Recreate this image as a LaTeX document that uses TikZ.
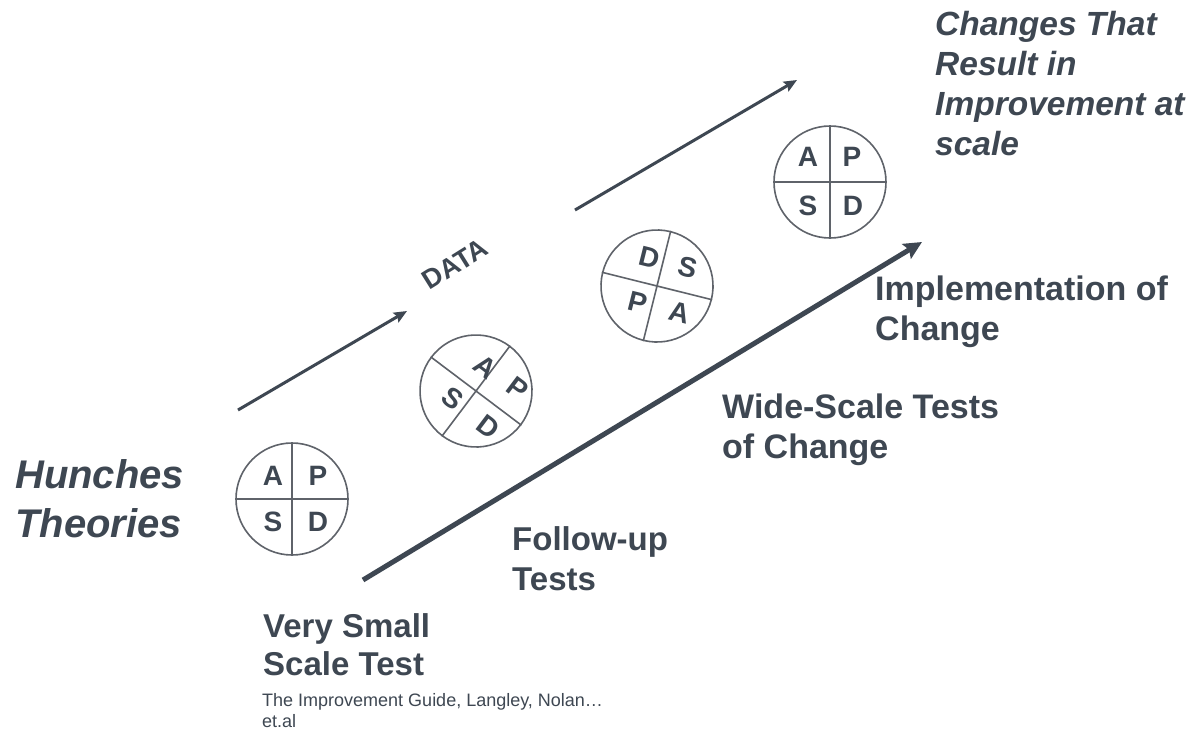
\documentclass[tikz,border=0pt]{standalone}
\usepackage{fontspec}
\setmainfont{Liberation Sans}
\usetikzlibrary{arrows.meta}
\definecolor{txt}{RGB}{62,71,82}
\definecolor{ring}{RGB}{95,99,106}
\begin{document}
\begin{tikzpicture}[x=1pt,y=1pt,
  pdsa/.style={circle, draw=ring, line width=1.6pt, minimum size=112pt, inner sep=0pt},
  quad/.style={draw=ring, line width=1.6pt},
  letter/.style={font=\bfseries\fontsize{28}{28}\selectfont, text=txt, inner sep=0pt},
  lbl/.style={text=txt, anchor=base west, inner sep=0pt, align=left},
  flow/.style={draw=txt, line width=3pt, -{Stealth[length=13pt,width=11pt,inset=2pt]}},
  mainflow/.style={draw=txt, line width=5pt, -{Stealth[length=18pt,width=17pt,inset=3pt]}}]
\useasboundingbox[fill=white] (0,0) rectangle (1191,-734);

% circle 1
\node[pdsa] (c1) at (292,-499) {};
\draw[quad] (c1.north) -- (c1.south) (c1.west) -- (c1.east);
\node[letter] (c1a) at (273,-476) {A};
\node[letter] (c1p) at (318,-476) {P};
\node[letter] (c1s) at (273,-522) {S};
\node[letter] (c1d) at (318,-522) {D};

% circle 2
\node[pdsa, rotate=-37] (c2) at (476,-391) {};
\draw[quad] (c2.north) -- (c2.south) (c2.west) -- (c2.east);
\node[letter, rotate=-37] (c2a) at (485,-367) {A};
\node[letter, rotate=-37] (c2p) at (518,-388) {P};
\node[letter, rotate=-37] (c2s) at (453,-398) {S};
\node[letter, rotate=-37] (c2d) at (488,-427) {D};

% circle 3
\node[pdsa, rotate=-14] (c3) at (657,-286) {};
\draw[quad] (c3.north) -- (c3.south) (c3.west) -- (c3.east);
\node[letter, rotate=-14] (c3d) at (650,-258) {D};
\node[letter, rotate=-14] (c3s) at (688,-267) {S};
\node[letter, rotate=-14] (c3p) at (638,-302) {P};
\node[letter, rotate=-14] (c3a) at (680,-313) {A};

% circle 4
\node[pdsa] (c4) at (830,-182) {};
\draw[quad] (c4.north) -- (c4.south) (c4.west) -- (c4.east);
\node[letter] (c4a) at (808,-157) {A};
\node[letter] (c4p) at (852,-157) {P};
\node[letter] (c4s) at (808,-206) {S};
\node[letter] (c4d) at (853,-206) {D};

% arrows
\coordinate (u1s) at (238,-410);
\coordinate (u1e) at (407,-311);
\coordinate (u2s) at (575,-210);
\coordinate (u2e) at (797,-80);
\coordinate (ms) at (363,-580);
\coordinate (me) at (922,-242);
\draw[flow] (u1s) -- (u1e);
\draw[flow] (u2s) -- (u2e);
\draw[mainflow] (ms) -- (me);

\node[font=\bfseries\fontsize{27}{27}\selectfont, text=txt, rotate=32, inner sep=0pt] (data) at (455,-264) {DATA};

% labels (anchor is the baseline of the last line)
\node[lbl, font=\bfseries\itshape\fontsize{40}{49}\selectfont] (hunch) at (15,-537) {Hunches\\Theories};
\node[lbl, font=\bfseries\itshape\fontsize{33.5}{40}\selectfont] (result) at (935,-155) {Changes That\\Result in\\Improvement at\\scale};
\node[lbl, font=\bfseries\fontsize{34}{40}\selectfont] (impl) at (875,-340) {Implementation of\\Change};
\node[lbl, font=\bfseries\fontsize{34}{40}\selectfont] (wide) at (722,-458) {Wide-Scale Tests\\of Change};
\node[lbl, font=\bfseries\fontsize{33}{40}\selectfont] (follow) at (512,-590) {Follow-up\\Tests};
\node[lbl, font=\bfseries\fontsize{33}{38}\selectfont] (small) at (263,-675) {Very Small\\Scale Test};
\node[lbl, font=\fontsize{18}{21}\selectfont] (ref) at (262,-727) {The Improvement Guide, Langley, Nolan…\\et.al};
\end{tikzpicture}
\end{document}
